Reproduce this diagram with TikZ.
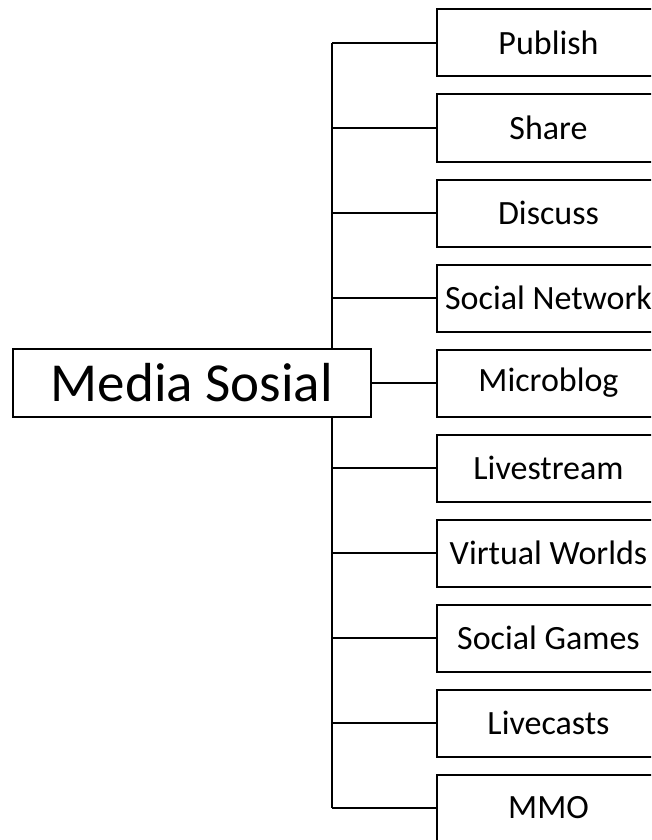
\documentclass[tikz,border=0pt]{standalone}
\usepackage{fontspec}
\setmainfont{Carlito}
\usetikzlibrary{positioning}

\begin{document}
\begin{tikzpicture}[
  x=1pt, y=-1pt,
  box/.style={draw, fill=white, line width=2pt, minimum width=223pt, minimum height=67pt,
              inner sep=0pt, font=\fontsize{34}{40}\selectfont},
  root/.style={draw, fill=white, line width=2pt, minimum width=358pt, minimum height=68pt,
               inner sep=0pt, font=\fontsize{55}{64}\selectfont},
  link/.style={line width=2pt},
  node distance=16pt
]
  \useasboundingbox (0,0) rectangle (651,840);
  \clip (0,0) rectangle (651,840);

  \node[root] (media) at (192,383) {Media Sosial};

  \node[box] (publish) at (548.5,43) {Publish};
  \node[box, below=of publish] (share) {Share};
  \node[box, below=of share] (discuss) {Discuss};
  \node[box, below=of discuss] (network) {Social Network};
  \node[box, below=of network] (microblog) {Microblog};
  \node[box, below=of microblog] (livestream) {Livestream};
  \node[box, below=of livestream] (worlds) {Virtual Worlds};
  \node[box, below=of worlds] (games) {Social Games};
  \node[box, below=of games] (livecasts) {Livecasts};
  \node[box, below=of livecasts] (mmo) {MMO};

  \coordinate (spine) at (332,0);

  % trunk, broken by the root box
  \draw[link] (spine |- publish.west) -- (spine |- media.north);
  \draw[link] (spine |- media.south) -- (spine |- mmo.west);

  % branches
  \draw[link] (publish.west) -- (spine |- publish.west);
  \draw[link] (share.west) -- (spine |- share.west);
  \draw[link] (discuss.west) -- (spine |- discuss.west);
  \draw[link] (network.west) -- (spine |- network.west);
  \draw[link] (media.east |- microblog.west) -- (microblog.west);
  \draw[link] (livestream.west) -- (spine |- livestream.west);
  \draw[link] (worlds.west) -- (spine |- worlds.west);
  \draw[link] (games.west) -- (spine |- games.west);
  \draw[link] (livecasts.west) -- (spine |- livecasts.west);
  \draw[link] (mmo.west) -- (spine |- mmo.west);
\end{tikzpicture}
\end{document}
